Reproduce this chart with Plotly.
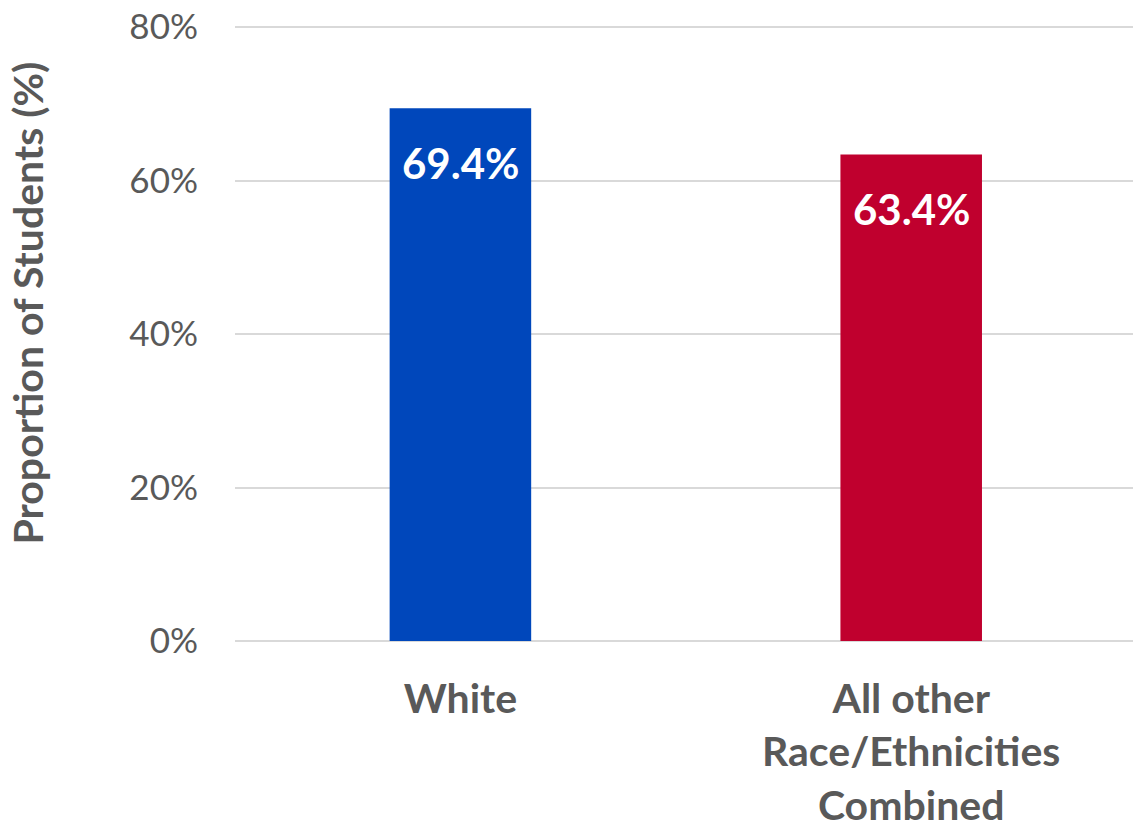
import plotly.graph_objects as go

categories = ["White", "All other<br>Race/Ethnicities<br>Combined"]
values = [69.4, 63.4]
bar_colors = ["#0047BB", "#C0002E"]
bar_labels = ["69.4%", "63.4%"]
y_ticks = [0, 20, 40, 60, 80]
y_tick_labels = ["0%", "20%", "40%", "60%", "80%"]
y_title = "Proportion of Students (%)"

GRAY = "#595959"
GRID = "#D9D9D9"
FONT = "Lato"

fig = go.Figure()
fig.add_trace(go.Bar(
    x=[0, 1],
    y=values,
    marker=dict(color=bar_colors, line=dict(width=0)),
    width=0.314,
    hoverinfo="skip",
))

for i, (v, lab) in enumerate(zip(values, bar_labels)):
    fig.add_annotation(
        x=i, y=v, text=f"<b>{lab}</b>", showarrow=False,
        yanchor="top", yshift=-28,
        font=dict(family=FONT, size=42, color="white"),
    )

# y-axis title
fig.add_annotation(
    xref="paper", yref="paper", x=-0.2316, y=0.548,
    xanchor="center", yanchor="middle", textangle=-90,
    text=f"<b>{y_title}</b>", showarrow=False,
    font=dict(family=FONT, size=41, color=GRAY),
)

fig.update_layout(
    width=1133, height=829,
    margin=dict(l=235, r=0, t=25, b=182),
    paper_bgcolor="white", plot_bgcolor="white",
    showlegend=False,
    font=dict(family=FONT, color=GRAY),
    xaxis=dict(
        range=[-0.5, 1.492],
        tickmode="array", tickvals=[0, 1],
        ticktext=[f"<b>{c}</b>" for c in categories],
        tickfont=dict(family=FONT, size=41, color=GRAY),
        showgrid=False, zeroline=False, showline=False,
        ticks="", ticklabelstandoff=30,
    ),
    yaxis=dict(
        range=[0, 80.26],
        tickmode="array", tickvals=y_ticks, ticktext=y_tick_labels,
        tickfont=dict(family=FONT, size=35, color=GRAY),
        showgrid=True, gridcolor=GRID, gridwidth=2,
        zeroline=True, zerolinecolor=GRID, zerolinewidth=2,
        showline=False, ticks="",
        ticklabelstandoff=36,
    ),
)

fig.write_html("out.html")
